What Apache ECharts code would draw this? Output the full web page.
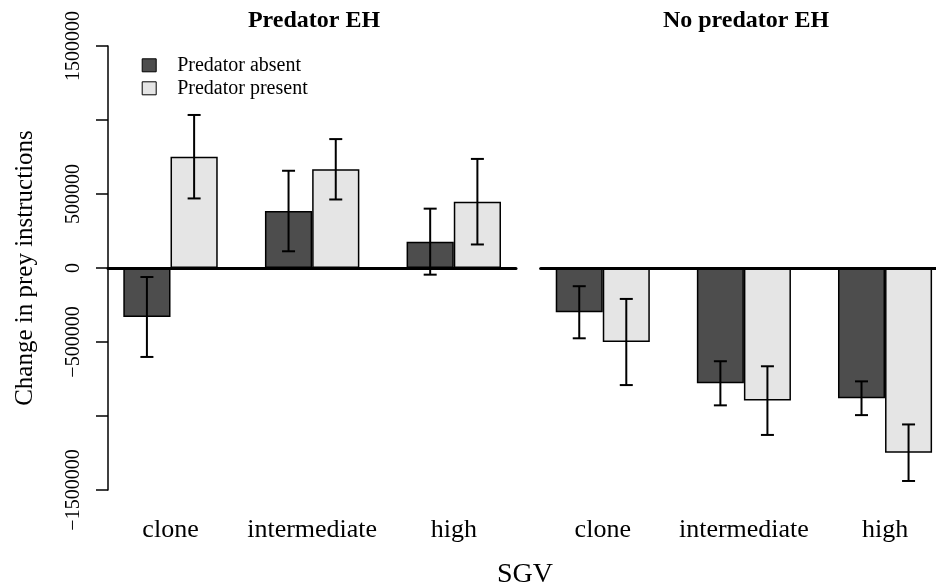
<!DOCTYPE html>
<html>
<head>
<meta charset="utf-8">
<script src="https://cdn.jsdelivr.net/npm/echarts@6/dist/echarts.min.js"></script>
<style>html,body{margin:0;padding:0;background:#fff;overflow:hidden}#c{width:970px;height:587px}</style>
</head>
<body>
<div id="c"></div>
<script>
// ---- data ----
const categories = ['clone', 'intermediate', 'high'];
const seriesNames = ['Predator absent', 'Predator present'];
const panelTitles = ['Predator EH', 'No predator EH'];
// Panel 1: Predator EH
const predEH_absent = [-331000, 385000, 178000];
const predEH_absent_err = [270000, 272000, 223000];
const predEH_present = [752000, 667000, 448000];
const predEH_present_err = [282000, 204000, 289000];
// Panel 2: No predator EH
const noPredEH_absent = [-299000, -779000, -880000];
const noPredEH_absent_err = [176000, 149000, 114000];
const noPredEH_present = [-500000, -896000, -1248000];
const noPredEH_present_err = [291000, 232000, 191000];
// y axis ticks
const yMin = -1500000, yMax = 1500000, yStep = 500000;
const yTickLabels = ['\u22121500000', '', '\u2212500000', '0', '500000', '', '1500000'];

(function () {
const FONT = '"Liberation Serif", "Times New Roman", serif';
const DARK = '#4d4d4d', LIGHT = '#e5e5e5';

const chart = echarts.init(document.getElementById('c'), null, {renderer: 'canvas'});

const gTop = 46, gHeight = 444;
const grids = [
  {left: 108, top: gTop, width: 408, height: gHeight},      // 0: axis / zero line panel 1
  {left: 99.7, top: gTop, width: 424.9, height: gHeight},   // 1: bars panel 1
  {left: 540.6, top: gTop, width: 406, height: gHeight},    // 2: zero line panel 2
  {left: 532.2, top: gTop, width: 423.4, height: gHeight}   // 3: bars panel 2
];

function zeroX(gi) {
  return {gridIndex: gi, type: 'value', min: 0, max: 1, z: 10,
    axisLine: {show: true, onZero: true, lineStyle: {color: '#000', width: 3}},
    axisTick: {show: false}, axisLabel: {show: false}, splitLine: {show: false}};
}
function catX(gi) {
  return {gridIndex: gi, type: 'category', data: categories, boundaryGap: true,
    axisLine: {show: false}, axisTick: {show: false}, splitLine: {show: false},
    axisLabel: {margin: 27, color: '#000', fontFamily: FONT, fontSize: 26, interval: 0}};
}
function hiddenY(gi) {
  return {gridIndex: gi, type: 'value', min: yMin, max: yMax, interval: yStep, show: false,
    splitLine: {show: false}};
}

const xAxis = [zeroX(0), catX(1), zeroX(2), catX(3)];
const yAxis = [
  {gridIndex: 0, type: 'value', min: yMin, max: yMax, interval: yStep,
    name: 'Change in prey instructions', nameLocation: 'middle', nameGap: 70, nameRotate: 90,
    nameTextStyle: {fontFamily: FONT, fontSize: 25, color: '#000'},
    axisLine: {show: true, lineStyle: {color: '#000', width: 1.5}},
    axisTick: {show: true, length: 12, lineStyle: {color: '#000', width: 1.5}},
    splitLine: {show: false},
    axisLabel: {rotate: 90, margin: 24, color: '#000', fontFamily: FONT, fontSize: 20,
      formatter: (v) => yTickLabels[Math.round((v - yMin) / yStep)] || ''}},
  hiddenY(1), hiddenY(2), hiddenY(3)
];

function barSeries(name, data, axisIdx, color) {
  return {name, type: 'bar', xAxisIndex: axisIdx, yAxisIndex: axisIdx, data,
    barWidth: '33.333%', barGap: '0%', z: 2,
    itemStyle: {color, borderColor: '#000', borderWidth: 1.5}};
}
function errSeries(means, errs, axisIdx, side) {
  const d = means.map((m, i) => [i, m - errs[i], m + errs[i]]);
  return {type: 'custom', xAxisIndex: axisIdx, yAxisIndex: axisIdx, data: d, z: 5,
    silent: true,
    renderItem: (params, api) => {
      const c = api.coord([api.value(0), 0]);
      const unit = api.size([1, 0])[0] / 3;
      const x = c[0] + side * unit / 2;
      const yLo = api.coord([api.value(0), api.value(1)])[1];
      const yHi = api.coord([api.value(0), api.value(2)])[1];
      const cap = 6.5;
      const st = {stroke: '#000', lineWidth: 2};
      return {type: 'group', children: [
        {type: 'line', shape: {x1: x, y1: yLo, x2: x, y2: yHi}, style: st},
        {type: 'line', shape: {x1: x - cap, y1: yLo, x2: x + cap, y2: yLo}, style: st},
        {type: 'line', shape: {x1: x - cap, y1: yHi, x2: x + cap, y2: yHi}, style: st}
      ]};
    }};
}

const series = [
  barSeries(seriesNames[0], predEH_absent, 1, DARK),
  barSeries(seriesNames[1], predEH_present, 1, LIGHT),
  barSeries(seriesNames[0], noPredEH_absent, 3, DARK),
  barSeries(seriesNames[1], noPredEH_present, 3, LIGHT),
  errSeries(predEH_absent, predEH_absent_err, 1, -1),
  errSeries(predEH_present, predEH_present_err, 1, 1),
  errSeries(noPredEH_absent, noPredEH_absent_err, 3, -1),
  errSeries(noPredEH_present, noPredEH_present_err, 3, 1)
];

chart.setOption({
  animation: false,
  backgroundColor: '#fff',
  grid: grids,
  xAxis, yAxis, series,
  legend: {
    data: seriesNames, orient: 'vertical', left: 136.7, top: 50.3,
    itemWidth: 14, itemHeight: 13, itemGap: 3, icon: 'rect',
    itemStyle: {borderColor: '#000', borderWidth: 1},
    textStyle: {fontFamily: FONT, fontSize: 20, color: '#000', lineHeight: 20, padding: [0, 0, 0, 16]}
  },
  graphic: [
    {type: 'text', x: 314, y: 21, style: {text: panelTitles[0], font: 'bold 24px ' + FONT, fill: '#000', align: 'center', verticalAlign: 'middle'}},
    {type: 'text', x: 746, y: 21, style: {text: panelTitles[1], font: 'bold 24px ' + FONT, fill: '#000', align: 'center', verticalAlign: 'middle'}},
    {type: 'text', x: 525, y: 574.6, style: {text: 'SGV', font: '28px ' + FONT, fill: '#000', align: 'center', verticalAlign: 'middle'}}
  ]
});
})();
</script>
</body>
</html>
